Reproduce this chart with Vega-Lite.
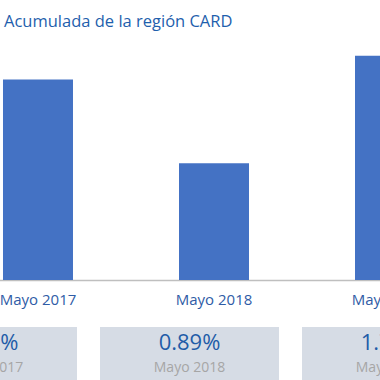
{
  "$schema": "https://vega.github.io/schema/vega-lite/v6.json",
  "width": 380,
  "height": 350,
  "autosize": {"type": "none"},
  "padding": {"top": 30, "left": 0, "right": 0, "bottom": 0},
  "background": "#ffffff",
  "title": {
    "text": "Acumulada de la región CARD",
    "anchor": "start",
    "frame": "group",
    "fontSize": 16.5,
    "fontWeight": "normal",
    "font": "Open Sans",
    "color": "#1f5fad",
    "offset": 6,
    "baseline": "alphabetic",
    "dx": 4,
    "dy": 19
  },
  "config": {"view": {"stroke": null}, "font": "Open Sans"},
  "data": {
    "values": [
      {"periodo": "Mayo 2017", "valor": 1.53, "etiqueta": "1.53%"},
      {"periodo": "Mayo 2018", "valor": 0.89, "etiqueta": "0.89%"},
      {"periodo": "Mayo 2019", "valor": 1.71, "etiqueta": "1.71%"}
    ]
  },
  "layer": [
    {
      "mark": {"type": "bar", "color": "#4472c4", "clip": true},
      "encoding": {
        "x": {
          "field": "periodo",
          "type": "nominal",
          "sort": null,
          "scale": {"range": [-50, 478], "paddingInner": 0.6023, "paddingOuter": 0.3011},
          "axis": {
            "title": null,
            "orient": "bottom",
            "offset": -100,
            "domainColor": "#bfbfbf",
            "domainWidth": 1.5,
            "ticks": false,
            "labelAngle": 0,
            "labelFont": "Open Sans",
            "labelFontSize": 15,
            "labelColor": "#2f5ca6",
            "labelPadding": 12
          }
        },
        "y": {
          "field": "valor",
          "type": "quantitative",
          "scale": {"domain": [0, 1.907], "range": [250, 0]},
          "axis": null
        }
      }
    },
    {
      "encoding": {
        "x": {
          "field": "periodo",
          "type": "nominal",
          "sort": null,
          "scale": {"range": [-113.5, 492.5], "paddingInner": 0.1139, "paddingOuter": 0.0569},
          "axis": null
        }
      },
      "layer": [
        {
          "mark": {"type": "bar", "color": "#d6dce5"},
          "encoding": {
            "y": {"datum": 1, "type": "quantitative", "scale": {"domain": [0, 1], "range": [350, 297]}, "axis": null},
            "y2": {"datum": 0}
          }
        },
        {
          "mark": {"type": "text", "fontSize": 22, "color": "#1f5ca8", "baseline": "alphabetic", "align": "center"},
          "encoding": {
            "y": {"datum": 0.566, "type": "quantitative"},
            "text": {"field": "etiqueta"}
          }
        },
        {
          "mark": {"type": "text", "fontSize": 14, "color": "#a6a6a6", "baseline": "alphabetic", "align": "center"},
          "encoding": {
            "y": {"datum": 0.157, "type": "quantitative"},
            "text": {"field": "periodo"}
          }
        }
      ]
    }
  ],
  "resolve": {"scale": {"x": "independent", "y": "independent"}, "axis": {"x": "independent", "y": "independent"}}
}
